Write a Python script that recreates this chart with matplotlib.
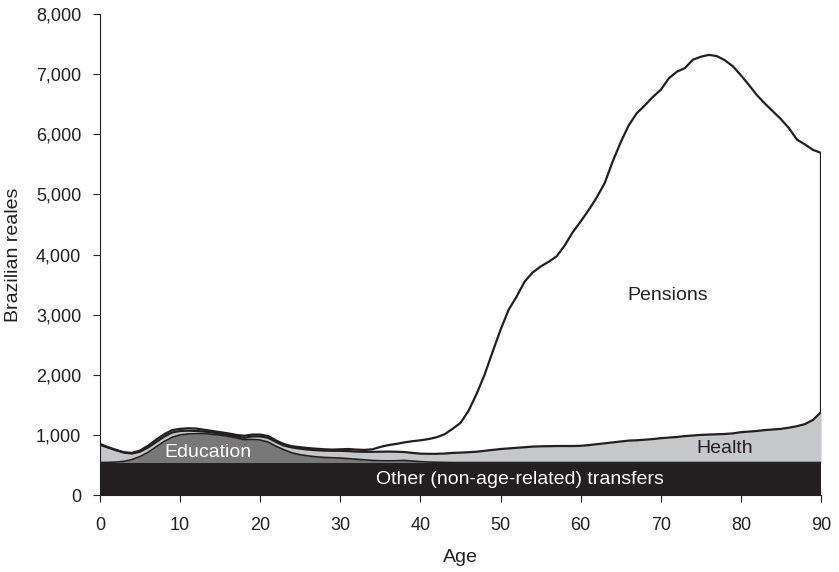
import matplotlib
matplotlib.use("Agg")
import matplotlib.pyplot as plt
import numpy as np

plt.rcParams['font.family'] = ['Liberation Sans', 'DejaVu Sans']

ages = list(range(0, 91))

# Constant non-age-related transfers (top of black band)
other_level = 540

# Cumulative top of education band (other + education)
edu_top = [540, 542, 548, 560, 590, 640, 710, 800, 890, 960,
           1000, 1015, 1020, 1020, 1010, 995, 975, 950, 920, 925,
           915, 880, 810, 750, 700, 670, 650, 635, 625, 620,
           615, 605, 595, 585, 575, 570, 568, 570, 575, 565,
           555, 548, 545, 542, 540, 540, 540, 540, 540, 540,
           540, 540, 540, 540, 540, 540, 540, 540, 540, 540,
           540, 540, 540, 540, 540, 540, 540, 540, 540, 540,
           540, 540, 540, 540, 540, 540, 540, 540, 540, 540,
           540, 540, 540, 540, 540, 540, 540, 540, 540, 540, 540]

# Cumulative top of health band (other + education + health)
health_top = [835, 790, 745, 705, 690, 720, 790, 880, 970, 1040,
              1065, 1070, 1065, 1055, 1040, 1020, 1000, 975, 950, 975,
              975, 950, 880, 820, 790, 770, 755, 745, 738, 735,
              735, 730, 722, 718, 718, 720, 722, 720, 715, 700,
              688, 685, 685, 690, 700, 705, 712, 720, 735, 750,
              765, 775, 785, 795, 805, 810, 812, 815, 815, 815,
              818, 830, 845, 860, 875, 890, 905, 910, 920, 930,
              945, 955, 965, 980, 990, 1000, 1005, 1010, 1015, 1025,
              1045, 1055, 1065, 1080, 1090, 1100, 1120, 1145, 1180, 1250, 1380]

# Total transfers (top of pensions band)
total_top = [850, 795, 750, 710, 700, 740, 820, 920, 1010, 1080,
             1100, 1110, 1105, 1085, 1065, 1045, 1025, 1000, 985, 1005,
             1005, 980, 905, 845, 810, 795, 780, 770, 760, 755,
             760, 765, 755, 750, 760, 800, 830, 850, 875, 895,
             910, 930, 960, 1010, 1100, 1200, 1400, 1680, 2000, 2380,
             2750, 3080, 3300, 3550, 3700, 3800, 3880, 3970, 4150, 4370,
             4550, 4740, 4950, 5190, 5550, 5870, 6150, 6350, 6480, 6620,
             6740, 6930, 7040, 7100, 7240, 7290, 7320, 7300, 7230, 7130,
             6980, 6820, 6650, 6510, 6380, 6250, 6100, 5910, 5830, 5740, 5690]

x_ticks = [0, 10, 20, 30, 40, 50, 60, 70, 80, 90]
y_ticks = [0, 1000, 2000, 3000, 4000, 5000, 6000, 7000, 8000]

dark = '#231f20'
edu_col = '#787878'
health_col = '#c6c7c8'

fig = plt.figure(figsize=(8.39, 5.72), dpi=100)
ax = fig.add_axes([0.1192, 0.1346, 0.8594, 0.8409])

a = np.array(ages)
o = np.full(len(ages), other_level)
e = np.array(edu_top)
h = np.array(health_top)
t = np.array(total_top)

ax.fill_between(a, 0, o, color=dark, lw=0, zorder=2)
ax.fill_between(a, o, e, color=edu_col, lw=0, zorder=2)
ax.fill_between(a, e, h, color=health_col, lw=0, zorder=2)
ax.fill_between(a, h, t, color='white', lw=0, zorder=2)

ax.plot(a, e, color=dark, lw=1.2, zorder=3)
ax.plot(a, h, color=dark, lw=1.6, zorder=3)
ax.plot(a, t, color=dark, lw=1.6, zorder=4)
ax.vlines(ages[-1], health_top[-1], total_top[-1], color=dark, lw=1.6, zorder=4)

ax.set_xlim(0, 90)
ax.set_ylim(0, 8000)
ax.set_xticks(x_ticks)
ax.set_yticks(y_ticks)
ax.set_yticklabels([f"{v:,}" for v in y_ticks])
ax.tick_params(axis='both', direction='out', length=5, width=0.8,
               labelsize=13, colors=dark)
ax.tick_params(axis='y', pad=8.5)
ax.tick_params(axis='x', pad=11)
for s in ['top', 'right']:
    ax.spines[s].set_visible(False)
for s in ['left', 'bottom']:
    ax.spines[s].set_color(dark)
    ax.spines[s].set_linewidth(0.8)

ax.set_xlabel('Age', fontsize=14, color=dark, va='top')
ax.set_ylabel('Brazilian reales', fontsize=14, color=dark)
ax.xaxis.set_label_coords(0.5, -0.112)
ax.yaxis.set_label_coords(-0.108, 0.5)

ax.text(13.5, 700, 'Education', color='white', fontsize=14, ha='center', va='center', zorder=5)
ax.text(78, 780, 'Health', color=dark, fontsize=14, ha='center', va='center', zorder=5)
ax.text(52.4, 265, 'Other (non-age-related) transfers', color='white', fontsize=14,
        ha='center', va='center', zorder=5)
ax.text(70.9, 3310, 'Pensions', color=dark, fontsize=14, ha='center', va='center', zorder=5)

fig.savefig('out.png', dpi=100)
